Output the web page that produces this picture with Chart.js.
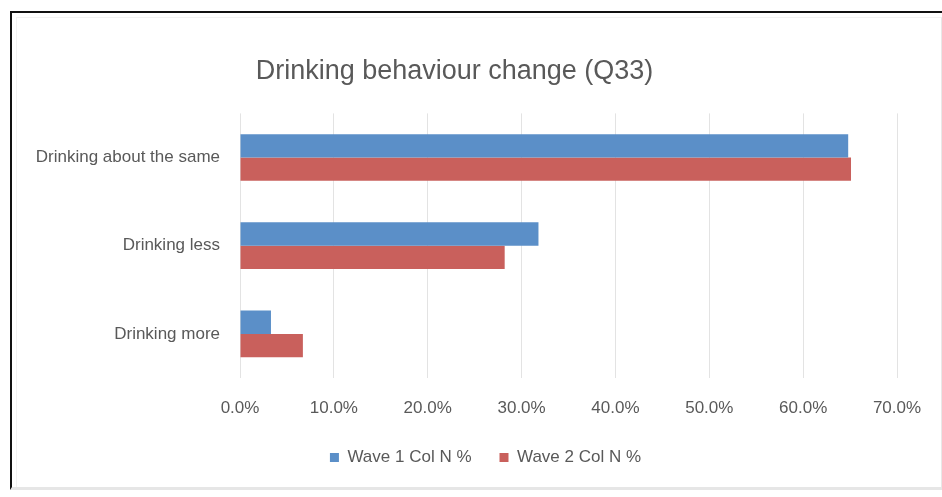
<!DOCTYPE html>
<html>
<head>
<meta charset="utf-8">
<script src="https://cdn.jsdelivr.net/npm/chart.js@4/dist/chart.umd.min.js"></script>
<style>
    html, body { margin: 0; padding: 0; background: #ffffff; }
    #wrap { position: relative; width: 942px; height: 497px; overflow: hidden; }
    #frame {
        position: absolute; left: 10px; top: 11px; width: 940px; height: 479px;
        border-top: 2px solid #111; border-left: 2px solid #111;
        border-bottom: 3px solid #e6e6e6; box-sizing: border-box;
    }
    #inner {
        position: absolute; left: 16px; top: 17px; width: 926px; height: 470px;
        border-top: 1px solid #f2f2f2; border-left: 1px solid #f2f2f2;
        border-right: 1px solid #e8e8e8; box-sizing: border-box;
    }
    canvas { position: absolute; left: 0; top: 0; }
</style>
</head>
<body>
<div id="wrap">
    <div id="frame"></div>
    <div id="inner"></div>
    <canvas id="drinkChart" width="942" height="497"></canvas>
</div>
<script>
// Dati del grafico
const categories = ["Drinking about the same", "Drinking less", "Drinking more"];
const wave1Values = [0.648, 0.318, 0.033];
const wave2Values = [0.651, 0.282, 0.067];
const seriesNames = ["Wave 1 Col N %", "Wave 2 Col N %"];
const xTicks = [0, 0.1, 0.2, 0.3, 0.4, 0.5, 0.6, 0.7];

const fontFamily = "'Liberation Sans', Arial, sans-serif";

document.addEventListener("DOMContentLoaded", function () {
    renderDrinkChart();
});

// Sposta la legenda un po' a destra, come nell'originale
const legendShift = {
    id: "legendShift",
    afterLayout(chart) {
        chart.legend.left += 31;
        chart.legend.right += 31;
    }
};

// Crea il grafico a barre orizzontali
function renderDrinkChart() {
    const ctx = document.getElementById("drinkChart").getContext("2d");

    new Chart(ctx, {
        type: "bar",
        data: {
            labels: categories,
            datasets: [{
                label: seriesNames[0],
                data: wave1Values,
                backgroundColor: "#5b8fc8",
                categoryPercentage: 0.53,
                barPercentage: 1.0
            }, {
                label: seriesNames[1],
                data: wave2Values,
                backgroundColor: "#c9605c",
                categoryPercentage: 0.53,
                barPercentage: 1.0
            }]
        },
        plugins: [legendShift],
        options: {
            indexAxis: "y",
            responsive: false,
            animation: false,
            layout: {
                padding: { top: 14, left: 12, right: 45, bottom: 21 }
            },
            plugins: {
                title: {
                    display: true,
                    text: "Drinking behaviour change (Q33)",
                    color: "#595959",
                    font: { family: fontFamily, size: 27, weight: "normal", lineHeight: 1.2 },
                    padding: { top: 41, bottom: 26 }
                },
                legend: {
                    position: "bottom",
                    labels: {
                        color: "#595959",
                        boxWidth: 9,
                        boxHeight: 9,
                        padding: 28,
                        font: { family: fontFamily, size: 17 }
                    }
                },
                tooltip: { enabled: false }
            },
            scales: {
                x: {
                    min: 0,
                    max: 0.7,
                    afterBuildTicks: function (scale) {
                        scale.ticks = xTicks.map(v => ({ value: v }));
                    },
                    afterFit: function (scale) {
                        scale.height = 43;
                    },
                    grid: {
                        color: "#e3e3e3",
                        drawTicks: false
                    },
                    border: { display: false },
                    ticks: {
                        padding: 20,
                        color: "#595959",
                        font: { family: fontFamily, size: 17 },
                        callback: function (value) {
                            return (value * 100).toFixed(1) + "%";
                        }
                    }
                },
                y: {
                    afterFit: function (scale) {
                        scale.width = 228;
                    },
                    grid: { display: false, drawTicks: false },
                    border: { display: false },
                    ticks: {
                        padding: 20,
                        color: "#595959",
                        font: { family: fontFamily, size: 17 }
                    }
                }
            }
        }
    });
}
</script>
</body>
</html>
